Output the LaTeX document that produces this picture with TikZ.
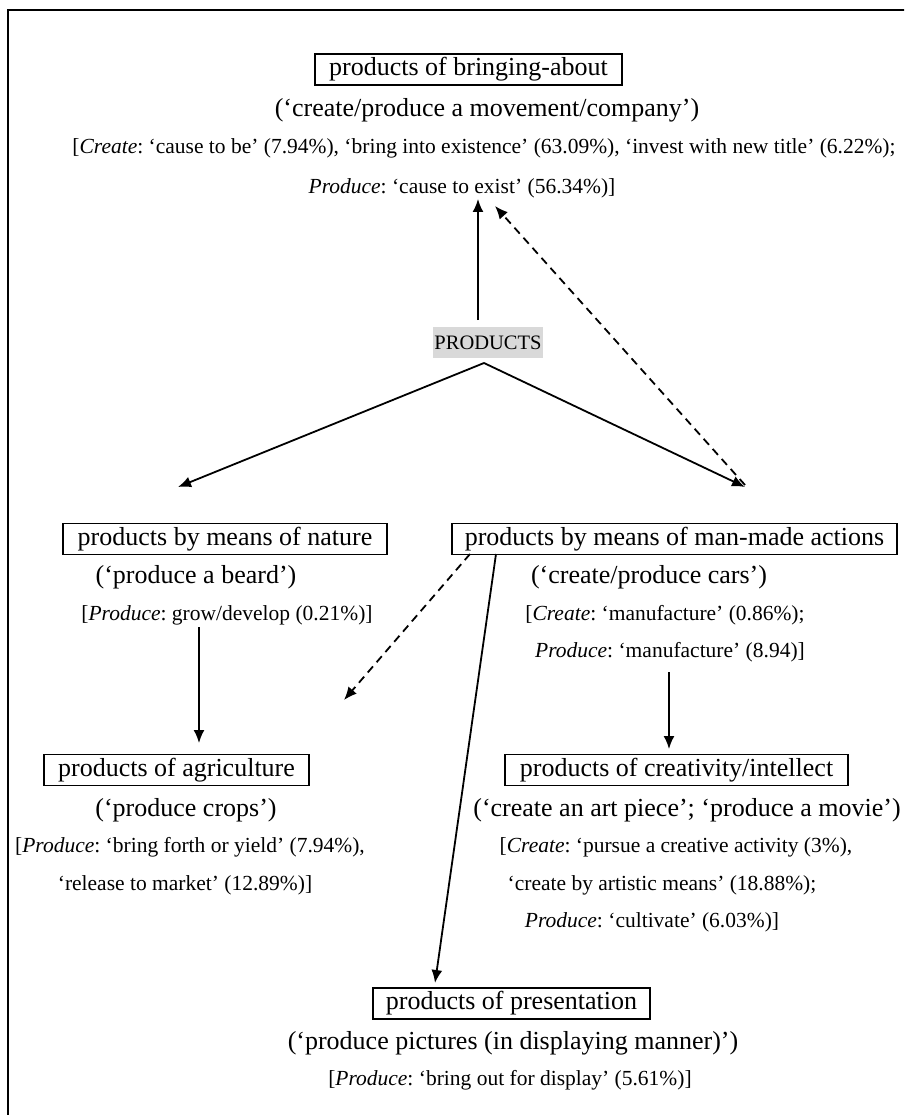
\documentclass[tikz,border=0pt]{standalone}
\usepackage{fontspec}
\setmainfont{Liberation Serif}
\usetikzlibrary{arrows.meta}
\frenchspacing

\begin{document}
\begin{tikzpicture}[x=1pt,y=-1pt,
  catbox/.style={draw,line width=1.3pt,minimum height=31pt,inner xsep=0pt,inner ysep=0pt,font=\fontsize{26}{30}\selectfont},
  gloss/.style={inner sep=0pt,font=\fontsize{26}{30}\selectfont},
  sense/.style={inner sep=0pt,font=\fontsize{21.5}{25}\selectfont},
  link/.style={line width=1.8pt,-{Latex[length=13pt,width=11pt]}},
  dlink/.style={link,dash pattern=on 8pt off 5.5pt}]

\useasboundingbox (0,0) rectangle (904,1115);
\clip (0,0) rectangle (904,1115);
\draw[line width=2.3pt] (8,10) rectangle (940,1150);

\node[catbox,minimum width=307pt] (bring) at (468.5,69.5) {products of bringing-about};
\node[gloss] (bringgl) at (487,110) {(`create/produce a movement/company')};
\node[sense] (bringsa) at (484,148) {[\textit{Create}: `cause to be' (7.94\%), `bring into existence' (63.09\%), `invest with new title' (6.22\%);};
\node[sense] (bringsb) at (462,188) {\textit{Produce}: `cause to exist' (56.34\%)]};

\node[inner xsep=1.5pt,inner ysep=0pt,minimum height=31pt,fill=black!15,font=\fontsize{20.5}{24}\selectfont] (prod) at (488,342.5) {PRODUCTS};

\node[catbox,minimum width=324pt] (nature) at (225,539) {products by means of nature};
\node[gloss] (naturegl) at (196,577) {(`produce a beard')};
\node[sense] (naturesa) at (227,615) {[\textit{Produce}: grow/develop (0.21\%)]};

\node[catbox,minimum width=445pt] (manmade) at (674.5,539) {products by means of man-made actions};
\node[gloss] (manmadegl) at (649,577) {(`create/produce cars')};
\node[sense] (manmadesa) at (665,615) {[\textit{Create}: `manufacture' (0.86\%);};
\node[sense] (manmadesb) at (670,652) {\textit{Produce}: `manufacture' (8.94)]};

\node[catbox,minimum width=265pt] (agri) at (176.5,770) {products of agriculture};
\node[gloss] (agrigl) at (186,810) {(`produce crops')};
\node[sense] (agrisa) at (190,847) {[\textit{Produce}: `bring forth or yield' (7.94\%),};
\node[sense] (agrisb) at (185,885) {`release to market' (12.89\%)]};

\node[catbox,minimum width=343pt] (creat) at (676.5,770) {products of creativity/intellect};
\node[gloss] (creatgl) at (687,810) {(`create an art piece'; `produce a movie')};
\node[sense] (creatsa) at (676,847) {[\textit{Create}: `pursue a creative activity (3\%),};
\node[sense] (creatsb) at (662,885) {`create by artistic means' (18.88\%);};
\node[sense] (creatsc) at (652,922) {\textit{Produce}: `cultivate' (6.03\%)]};

\node[catbox,minimum width=277pt] (pres) at (511.5,1003.5) {products of presentation};
\node[gloss] (presgl) at (513,1043) {(`produce pictures (in displaying manner)')};
\node[sense] (pressa) at (510,1080) {[\textit{Produce}: `bring out for display' (5.61\%)]};

\coordinate (apex) at (484,363);
\coordinate (uptip) at (478,199);
\coordinate (upfoot) at (478,320);
\coordinate (dtip) at (495,206);
\coordinate (dfoot) at (745,485);
\coordinate (ltip) at (178,487);
\coordinate (rtip) at (745,487);
\coordinate (ntop) at (199,627);
\coordinate (ntip) at (199,743);
\coordinate (mdash) at (470,554);
\coordinate (mdtip) at (344,700);
\coordinate (mline) at (496,554);
\coordinate (ptip) at (435,983);
\coordinate (mtop) at (669,672);
\coordinate (mtip) at (669,749);

\draw[link] (upfoot) -- (uptip);
\draw[dlink] (dfoot) -- (dtip);
\draw[link] (apex) -- (ltip);
\draw[link] (apex) -- (rtip);
\draw[link] (ntop) -- (ntip);
\draw[dlink] (mdash) -- (mdtip);
\draw[link] (mline) -- (ptip);
\draw[link] (mtop) -- (mtip);
\end{tikzpicture}
\end{document}
